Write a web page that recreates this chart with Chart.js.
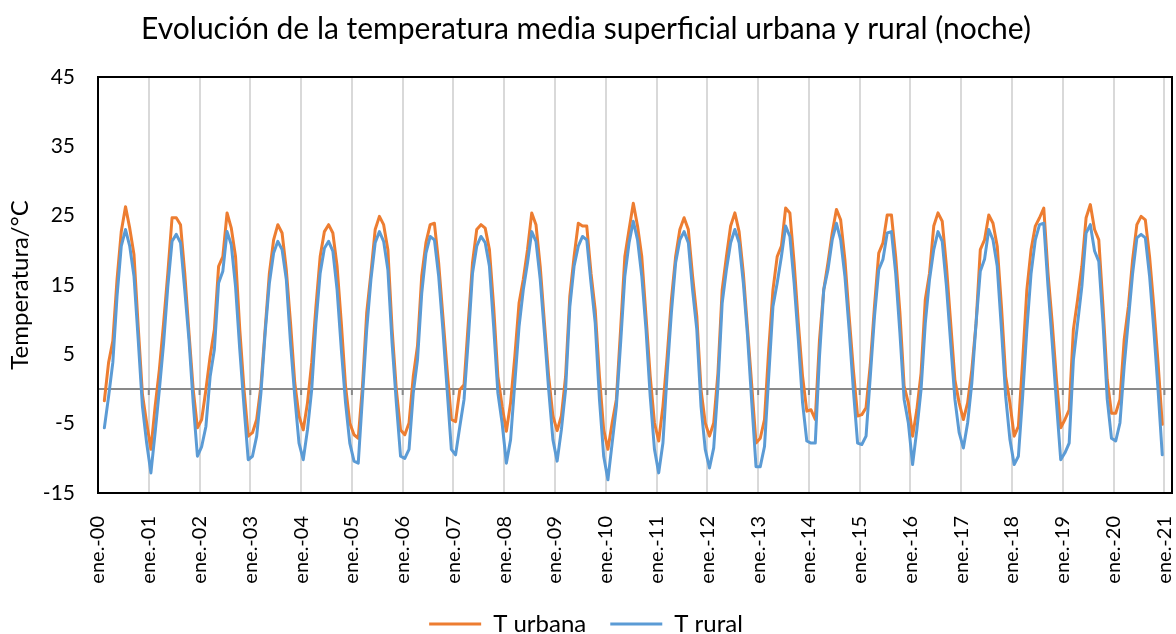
<!DOCTYPE html>
<html lang="es">
<head>
<meta charset="utf-8">
<title>Evolución de la temperatura media superficial urbana y rural (noche)</title>
<script src="https://cdn.jsdelivr.net/npm/chart.js@4.4.1/dist/chart.umd.min.js"></script>
<style>
  html, body { margin: 0; padding: 0; background: #fff; }
  #wrap { width: 1176px; height: 634px; }
</style>
</head>
<body>
<div id="wrap"><canvas id="tempChart" width="1176" height="634"></canvas></div>
<script>
// Monthly night-time surface temperature, Feb 2000 .. Dec 2020
const firstMonth = 1; // months after Jan 2000 (first value = Feb 2000)

const tUrbana = [
  -1.7, 3.8, 6.9, 15.8, 22.7, 26.3, 23.2, 19.4, 9.0, -0.8, -4.9,        // 2000
  -8.7, -2.5, 2.8, 9.5, 16.7, 24.7, 24.7, 23.7, 16.7, 8.1, -0.1, -5.6,  // 2001
  -4.4, -0.1, 4.7, 8.6, 17.7, 19.1, 25.4, 23.2, 19.1, 8.6, 0.0, -6.8,   // 2002
  -6.3, -4.4, 0.4, 8.6, 16.7, 21.5, 23.7, 22.5, 17.2, 9.5, 0.9, -3.9,   // 2003
  -5.9, -2.0, 3.8, 11.9, 19.1, 22.7, 23.7, 22.5, 17.7, 9.5, 0.4, -4.9,  // 2004
  -6.6, -7.1, 0.4, 11.0, 16.7, 23.0, 24.9, 23.7, 20.1, 8.6, -0.1, -5.9, // 2005
  -6.6, -4.9, 1.8, 6.2, 16.3, 21.1, 23.7, 23.9, 18.2, 10.5, 2.8, -4.4,  // 2006
  -4.7, -0.1, 0.6, 9.5, 18.2, 23.0, 23.7, 23.2, 20.1, 11.9, 1.8, -2.5,  // 2007
  -6.1, -2.0, 4.7, 12.4, 15.8, 20.1, 25.4, 23.7, 17.7, 9.5, 1.8, -3.9,  // 2008
  -6.0, -3.9, 1.8, 13.4, 19.1, 23.9, 23.5, 23.5, 16.7, 11.4, 1.8, -5.9, // 2009
  -8.7, -4.9, -1.5, 8.6, 19.1, 23.0, 26.8, 23.5, 19.1, 10.5, 1.8, -4.9, // 2010
  -7.5, -2.5, 4.7, 12.9, 19.1, 23.0, 24.7, 23.0, 16.3, 10.5, -0.1, -4.9,// 2011
  -6.8, -4.9, 2.3, 14.3, 19.1, 23.5, 25.4, 22.7, 16.7, 8.6, 0.4, -7.8,  // 2012
  -7.1, -4.4, 5.7, 14.3, 19.1, 20.6, 26.1, 25.4, 18.2, 9.5, 1.8, -3.2,  // 2013
  -3.0, -4.4, 7.1, 14.3, 18.2, 22.5, 25.9, 24.4, 18.7, 10.5, 2.8, -3.9, // 2014
  -3.7, -2.7, 3.5, 12.0, 19.6, 21.1, 25.1, 25.1, 19.1, 11.0, 0.4, -2.0, // 2015
  -6.8, -3.0, 2.3, 12.9, 16.7, 23.5, 25.4, 24.2, 17.7, 9.5, 1.3, -2.0,  // 2016
  -4.4, -2.0, 2.8, 9.5, 20.1, 21.5, 25.1, 23.9, 20.6, 11.9, 1.8, -2.0,  // 2017
  -6.8, -5.4, 4.0, 14.3, 20.1, 23.5, 24.7, 26.1, 16.7, 9.5, 1.3, -5.6,  // 2018
  -4.4, -3.0, 8.6, 12.9, 17.7, 24.7, 26.6, 23.0, 21.5, 11.9, 1.3, -3.5, // 2019
  -3.5, -1.5, 7.1, 11.9, 18.7, 23.7, 24.9, 24.4, 19.1, 11.9, 3.8, -5.1  // 2020
];

const tRural = [
  -5.6, -1.1, 3.8, 13.4, 20.6, 23.0, 20.6, 16.3, 7.1, -2.5, -7.8,         // 2000
  -12.1, -6.3, -0.1, 6.6, 14.8, 21.3, 22.3, 21.1, 14.3, 7.1, -2.0, -9.7,  // 2001
  -8.3, -5.4, 1.8, 5.7, 15.3, 17.0, 22.7, 20.8, 14.8, 5.7, -2.5, -10.2,   // 2002
  -9.7, -6.8, -0.6, 8.1, 15.3, 19.6, 21.3, 20.1, 15.8, 6.6, -1.1, -7.8,   // 2003
  -10.2, -5.9, -0.1, 9.5, 16.7, 20.3, 21.3, 19.9, 14.3, 5.7, -2.0, -7.8,  // 2004
  -10.4, -10.7, -1.1, 8.6, 15.8, 21.1, 22.7, 21.3, 17.2, 6.6, -2.0, -9.7, // 2005
  -10.0, -8.7, -0.6, 4.2, 13.8, 19.6, 22.0, 21.5, 16.3, 8.6, -0.1, -8.7,  // 2006
  -9.5, -5.4, -1.5, 7.1, 16.7, 20.6, 22.0, 21.1, 17.7, 9.0, -0.6, -4.9,   // 2007
  -10.7, -7.3, 0.9, 9.0, 14.3, 18.2, 22.7, 21.3, 15.8, 8.1, -0.1, -7.3,   // 2008
  -10.4, -5.9, -0.1, 11.9, 17.7, 20.6, 22.0, 21.5, 15.3, 9.5, -1.5, -9.7, // 2009
  -13.1, -7.8, -2.5, 6.6, 16.3, 21.1, 24.2, 21.5, 16.3, 8.6, -1.1, -8.7,  // 2010
  -12.1, -7.8, 2.3, 11.0, 18.2, 21.5, 22.7, 21.1, 14.3, 8.6, -2.5, -8.7,  // 2011
  -11.4, -8.5, 0.4, 12.4, 17.2, 21.1, 23.0, 21.1, 15.3, 7.6, -2.0, -11.2, // 2012
  -11.2, -8.3, 1.8, 11.9, 15.3, 19.1, 23.5, 22.0, 15.3, 7.1, -2.0, -7.5,  // 2013
  -7.8, -7.8, 4.7, 14.3, 17.2, 21.5, 23.9, 21.5, 16.3, 8.6, -0.1, -7.8,   // 2014
  -8.0, -6.8, 1.8, 10.5, 17.2, 18.7, 22.5, 22.7, 16.7, 8.1, -1.5, -4.9,   // 2015
  -10.9, -5.9, -0.1, 9.5, 15.8, 20.1, 22.7, 21.3, 14.8, 6.6, -1.5, -6.3,  // 2016
  -8.5, -4.9, 0.9, 9.5, 17.0, 18.7, 23.0, 21.5, 17.7, 8.6, -1.1, -7.3,    // 2017
  -10.9, -9.7, -1.1, 8.6, 16.7, 21.5, 23.7, 23.9, 14.8, 6.6, -2.0, -10.2, // 2018
  -9.2, -7.8, 4.2, 9.5, 14.8, 22.5, 23.7, 19.9, 18.4, 9.5, -1.5, -7.1,    // 2019
  -7.5, -4.9, 3.3, 10.0, 16.7, 21.8, 22.3, 21.8, 16.3, 8.6, -0.1, -9.5    // 2020
];

const xTickLabels = [
  'ene.-00', 'ene.-01', 'ene.-02', 'ene.-03', 'ene.-04', 'ene.-05', 'ene.-06',
  'ene.-07', 'ene.-08', 'ene.-09', 'ene.-10', 'ene.-11', 'ene.-12', 'ene.-13',
  'ene.-14', 'ene.-15', 'ene.-16', 'ene.-17', 'ene.-18', 'ene.-19', 'ene.-20',
  'ene.-21'
];
const yTicks = [-15, -5, 5, 15, 25, 35, 45];

const FONT = 'Lato, "Open Sans", "DejaVu Sans", sans-serif';

// each value sits in the middle of its month
const toPoints = (values) => values.map((v, i) => ({ x: firstMonth + i + 0.5, y: v }));

// zero line with small year ticks, and the black frame round the plot area
const plotFrame = {
  id: 'plotFrame',
  beforeDatasetsDraw(chart) {
    const { ctx, chartArea: area, scales: { x, y } } = chart;
    const y0 = y.getPixelForValue(0);
    ctx.save();
    ctx.strokeStyle = '#898989';
    ctx.lineWidth = 2;
    ctx.beginPath();
    ctx.moveTo(area.left, y0);
    ctx.lineTo(area.right, y0);
    x.ticks.forEach(t => {
      const px = x.getPixelForValue(t.value);
      ctx.moveTo(px, y0);
      ctx.lineTo(px, y0 + 6);
    });
    ctx.stroke();
    ctx.restore();
  },
  afterDatasetsDraw(chart) {
    const { ctx, chartArea: area } = chart;
    ctx.save();
    ctx.strokeStyle = '#000';
    ctx.lineWidth = 2;
    ctx.strokeRect(area.left, area.top, area.right - area.left, area.bottom - area.top);
    ctx.restore();
  }
};

const lineStyle = {
  borderWidth: 3,
  pointRadius: 0,
  tension: 0,
  borderJoinStyle: 'round',
  borderCapStyle: 'round',
  fill: false
};

new Chart(document.getElementById('tempChart'), {
  type: 'line',
  data: {
    datasets: [
      {
        label: 'T urbana',
        data: toPoints(tUrbana),
        borderColor: '#ED7D31',
        backgroundColor: '#ED7D31',
        order: 2,
        ...lineStyle
      },
      {
        label: 'T rural',
        data: toPoints(tRural),
        borderColor: '#5B9BD5',
        backgroundColor: '#5B9BD5',
        order: 1,
        ...lineStyle
      }
    ]
  },
  options: {
    responsive: false,
    animation: false,
    layout: {
      padding: { left: 0, right: 4, top: 0, bottom: 0 }
    },
    plugins: {
      title: {
        display: true,
        text: 'Evolución de la temperatura media superficial urbana y rural (noche)',
        color: '#000',
        font: { family: FONT, size: 30, weight: 'normal' },
        padding: { top: 11, bottom: 30 }
      },
      legend: {
        position: 'bottom',
        maxHeight: 46,
        labels: {
          color: '#000',
          font: { family: FONT, size: 24 },
          usePointStyle: true,
          pointStyle: 'line',
          pointStyleWidth: 52,
          padding: 24,
          sort: (a, b) => a.datasetIndex - b.datasetIndex
        }
      },
      tooltip: { enabled: false }
    },
    scales: {
      x: {
        type: 'linear',
        min: 0,
        max: 253.8,
        afterBuildTicks: (scale) => {
          scale.ticks = xTickLabels.map((_, i) => ({ value: i * 12 }));
        },
        afterFit: (scale) => {
          scale.height = 95;
          scale.paddingLeft = 0;
          scale.paddingRight = 0;
        },
        ticks: {
          autoSkip: false,
          minRotation: 90,
          maxRotation: 90,
          padding: 23,
          color: '#000',
          font: { family: FONT, size: 20 },
          callback: (value, index) => xTickLabels[index]
        },
        grid: {
          color: '#D9D9D9',
          lineWidth: 2,
          drawTicks: false
        },
        border: { display: false }
      },
      y: {
        min: -15,
        max: 45,
        afterBuildTicks: (scale) => {
          scale.ticks = yTicks.map(v => ({ value: v }));
        },
        afterFit: (scale) => { scale.width = 98; },
        ticks: {
          padding: 23,
          color: '#000',
          font: { family: FONT, size: 21 }
        },
        grid: { display: false, drawTicks: false },
        border: { display: false },
        title: {
          display: true,
          text: 'Temperatura/°C',
          color: '#000',
          font: { family: FONT, size: 24 },
          padding: { top: 6, bottom: 0 }
        }
      }
    }
  },
  plugins: [plotFrame]
});
</script>
</body>
</html>
